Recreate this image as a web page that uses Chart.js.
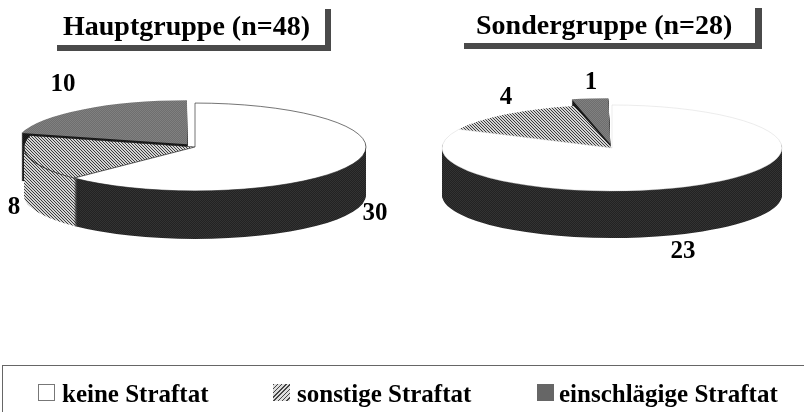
<!DOCTYPE html>
<html><head><meta charset="utf-8">
<script src="https://cdn.jsdelivr.net/npm/chart.js@4"></script>
<style>
html,body{margin:0;padding:0;background:#fff;width:804px;height:412px;overflow:hidden}
#page{position:relative;width:804px;height:412px;font-family:"Liberation Serif",serif;font-weight:bold;color:#000}
canvas{position:absolute;top:0}
.t{position:absolute;white-space:nowrap;line-height:1;filter:blur(.4px)}
.bar{position:absolute;background:#4a4a4a}
.mk{position:absolute;box-sizing:border-box;width:17px;height:17px;top:384px}
</style></head>
<body><div id="page">
<canvas id="a" width="390" height="294" style="left:0"></canvas>
<canvas id="b" width="384" height="296" style="left:420px"></canvas>
</div>
<script>
const categories = ["keine Straftat", "sonstige Straftat", "einschlägige Straftat"];
const titleA = "Hauptgruppe (n=48)";
const titleB = "Sondergruppe (n=28)";
const valuesA = [30, 8, 10];
const valuesB = [23, 4, 1];

function tile(size, paint){
  const c=document.createElement('canvas'); c.width=c.height=size;
  paint(c.getContext('2d'),size);
  return c.getContext('2d').createPattern(c,'repeat');
}
function hatchTile(){
  return tile(3,(g,s)=>{
    g.fillStyle='#d4d4d4';g.fillRect(0,0,s,s);
    g.fillStyle='#3c3c3c';
    for(let i=0;i<s;i++) g.fillRect(i,i,1,1);
  });
}
function stipple(a,b){
  return tile(2,(g)=>{
    g.fillStyle=a;g.fillRect(0,0,2,2);
    g.fillStyle=b;g.fillRect(0,0,1,1);g.fillRect(1,1,1,1);
  });
}
const patterns=[hatchTile(),hatchTile(),stipple('#6e6e6e','#808080'),stipple('#222','#333'),stipple('#111','#222')];
const topColors=['#ffffff',patterns[0],patterns[2]];
const wallColors=[patterns[3],patterns[1],patterns[4]];

const pie3d={
  id:'pie3d',
  beforeDatasetsDraw(chart,args,o){
    const ctx=chart.ctx, meta=chart.getDatasetMeta(0);
    const cx=chart.width/2, cy=chart.height/2;
    const nativeFill=CanvasRenderingContext2D.prototype.fill;
    // the path stays in device space, so patterns fill unsquashed and pixel aligned
    ctx.fill=function(){const m=this.getTransform();this.setTransform(1,0,0,1,0,0);nativeFill.call(this);this.setTransform(m);};
    const stamp=(el,color,border,bw)=>{
      const shim=Object.create(el);
      shim.options=Object.assign({},el.options,{backgroundColor:color,borderColor:border,borderWidth:bw,borderAlign:'center',spacing:0,offset:el.options.offset,borderJoinStyle:'round',borderDash:[],borderDashOffset:0,circular:true,borderRadius:0});
      el.draw.call(shim,ctx);
    };
    for(let i=meta.data.length-1;i>=0;i--){
      const el=meta.data[i];
      for(let d=o.depth;d>=1;d--){
        ctx.save();ctx.translate(cx,cy+d);ctx.scale(1,o.k);ctx.translate(-cx,-cy);
        stamp(el,wallColors[i],'#333',0);
        ctx.restore();
      }
      ctx.save();ctx.translate(cx,cy);ctx.scale(1,o.k);ctx.translate(-cx,-cy);
      stamp(el,topColors[i],o.edge[i],o.edgeWidth[i]);
      ctx.restore();
    }
    delete ctx.fill;
    return false;
  },
  afterDraw(chart,args,o){
    const ctx=chart.ctx;
    ctx.save();
    ctx.font='bold 25px "Liberation Serif"';ctx.fillStyle='#000';ctx.textAlign='center';ctx.textBaseline='middle';
    chart.data.datasets[0].data.forEach((v,i)=>ctx.fillText(String(v),o.spots[i][0],o.spots[i][1]));
    ctx.restore();
  }
};
function make(id,values,radius,offsets,opt){
  new Chart(document.getElementById(id),{
    type:'pie',
    data:{labels:categories,datasets:[{data:values,offset:offsets,backgroundColor:'#fff',borderWidth:0}]},
    options:{responsive:false,animation:false,radius:radius,rotation:0,
      layout:{padding:0},
      plugins:{legend:{display:false},tooltip:{enabled:false},title:{display:false},pie3d:opt}},
    plugins:[pie3d]
  });
}
make('a',valuesA,171,[0,0,52],{k:.257,depth:48,edge:['#222','#222','#333'],edgeWidth:[1,1.2,0],spots:[[375,214],[14,208],[63,85]]});
make('b',valuesB,170,[0,0,60],{k:.253,depth:47,edge:['#ccc','#333','#333'],edgeWidth:[.6,0,0],spots:[[263,252],[86,98],[171,83]]});

const page=document.getElementById('page');
function text(s,x,y,size){
  const e=document.createElement('div');e.className='t';e.textContent=s;
  e.style.cssText=`left:${x}px;top:${y}px;font-size:${size}px`;
  page.appendChild(e);
}
function bar(x,y,w,h){const e=document.createElement('div');e.className='bar';e.style.cssText=`left:${x}px;top:${y}px;width:${w}px;height:${h}px`;page.appendChild(e);}
text(titleA,63,12,28);
text(titleB,476,11,28);
bar(57,45,274,6);bar(325,9,6,42);
bar(464,43,298,6);bar(755,8,7,41);
const line=(x,y,w,h)=>{const e=document.createElement('div');e.style.cssText=`position:absolute;left:${x}px;top:${y}px;width:${w}px;height:${h}px;background:#666`;page.appendChild(e);};
line(2,365,802,1);line(2,365,1,47);
const mk=(x,css)=>{const e=document.createElement('div');e.className='mk';e.style.cssText=`left:${x}px;${css}`;page.appendChild(e);};
mk(38,'border:1px solid #777;background:#fff');
mk(273,'background:repeating-linear-gradient(135deg,#444 0 1px,#ddd 1px 3px)');
mk(537,'background:#666');
text(categories[0],62,381,25);
text(categories[1],297,381,25);
text(categories[2],559,381,25);
</script></body></html>
